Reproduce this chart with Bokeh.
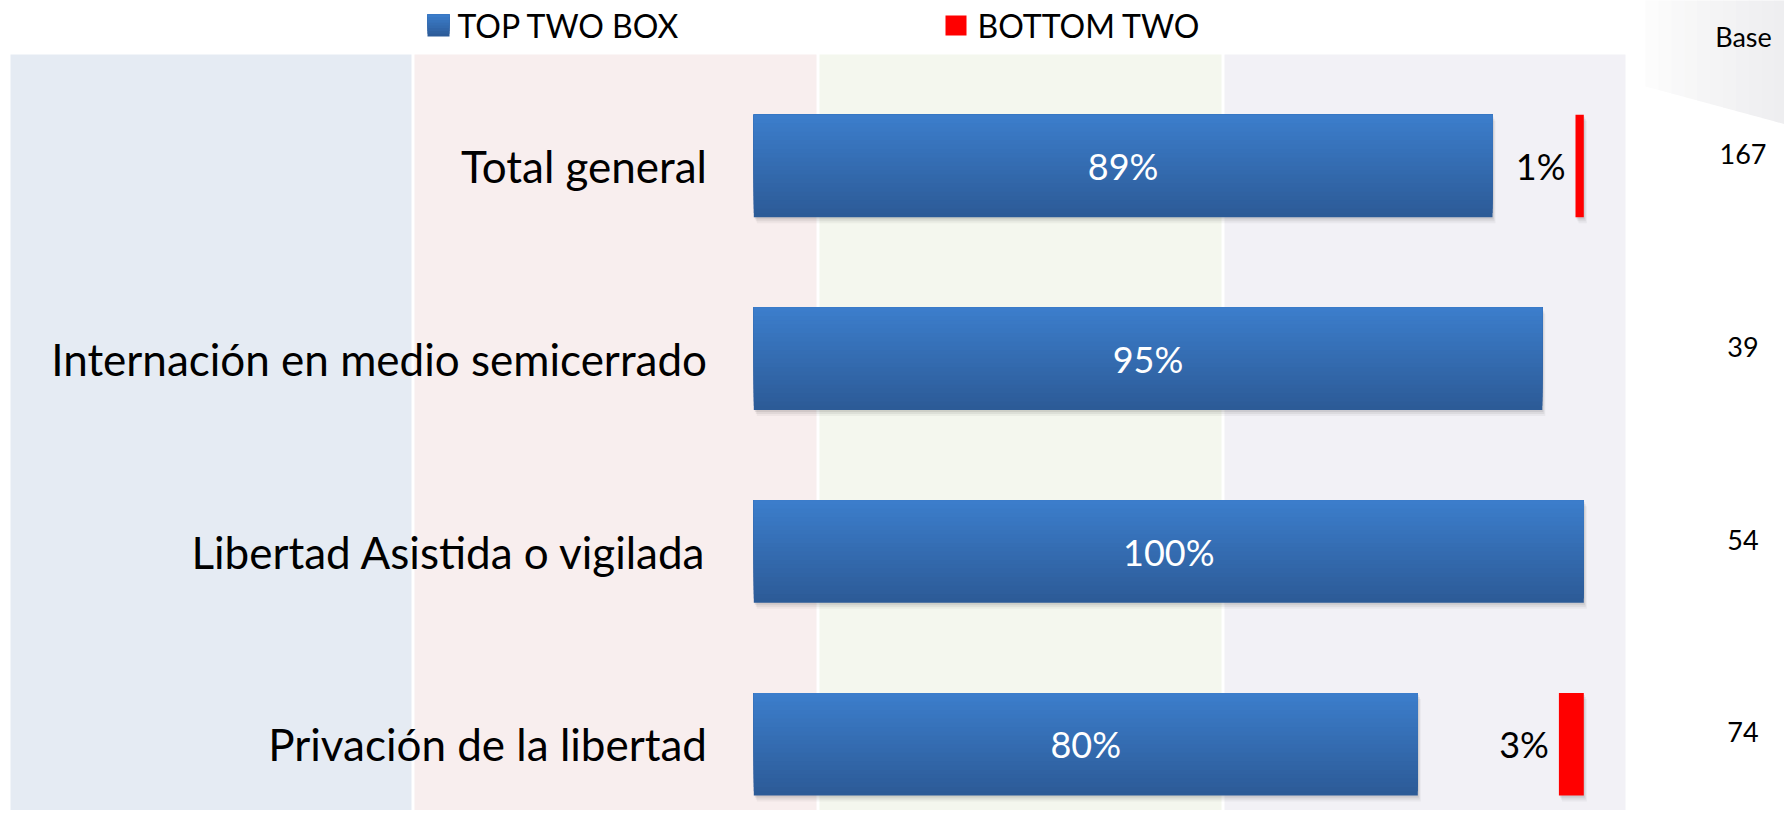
from bokeh.plotting import figure
from bokeh.models import ColumnDataSource, Range1d
from bokeh.embed import file_html
from bokeh.resources import INLINE
from bokeh.core.properties import value
from bokeh.transform import dodge

# ---------------- data ----------------
categories = ["Total general", "Internación en medio semicerrado",
              "Libertad Asistida o vigilada", "Privación de la libertad"]
top_two = [89, 95, 100, 80]
bottom_two = [1, 0, 0, 3]
bases = [167, 39, 54, 74]
series_names = ["TOP TWO BOX", "BOTTOM TWO"]
base_title = "Base"

# ---------------- layout helpers ----------------
W, H = 1784, 810
ORIGIN = 0               # page position of the figure's top-left corner
ZERO_PX = 753.3          # page x of 0 %
PX_PER_PCT = 8.3
ROW0_PX = 165.5          # page y of first category centre
PX_PER_ROW = 192.75


def X(px):
    return (px - ZERO_PX) / PX_PER_PCT


def Y(py):
    return (py - ROW0_PX) / PX_PER_ROW


def lerp_hex(c1, c2, t):
    a = [int(c1[i:i + 2], 16) for i in (1, 3, 5)]
    b = [int(c2[i:i + 2], 16) for i in (1, 3, 5)]
    return "#" + "".join(f"{round(a[j] + (b[j] - a[j]) * t):02x}" for j in range(3))


FONT = value("Lato")
BLUE_TOP, BLUE_BOT = "#3c7ecc", "#2c5a96"

p = figure(width=W, height=H, output_backend="svg", toolbar_location=None,
           x_range=Range1d(X(ORIGIN), X(ORIGIN + W)),
           y_range=Range1d(Y(ORIGIN + H), Y(ORIGIN)),
           x_axis_location=None, y_axis_location=None, min_border=0,
           outline_line_color=None, background_fill_color="white",
           border_fill_color="white")
p.grid.visible = False

# background bands
band_l = [10, 414, 819, 1224]
band_r = [411, 816, 1221, 1625]
band_c = ["#e5ebf3", "#f8eeee", "#f4f7ee", "#f2f1f6"]
p.quad(left=[X(v) for v in band_l], right=[X(v) for v in band_r],
       top=Y(54), bottom=Y(840), fill_color=band_c, line_color=None)

# top-right grey decoration (gradient wedge)
NS = 12
xs_d, ys_d, cs_d = [], [], []
x_a, x_b = 1645, 1800
for k in range(NS):
    xa = x_a + (x_b - x_a) * k / NS
    xb = x_a + (x_b - x_a) * (k + 1) / NS
    ba = 86 + (128 - 86) * (xa - x_a) / (x_b - x_a)
    bb = 86 + (128 - 86) * (xb - x_a) / (x_b - x_a)
    xs_d.append([X(xa), X(xb + 0.5), X(xb + 0.5), X(xa)])
    ys_d.append([Y(-5), Y(-5), Y(bb), Y(ba)])
    cs_d.append(lerp_hex("#fdfdfd", "#ececee", ((k + 0.5) / NS) ** 0.8))
p.patches(xs_d, ys_d, fill_color=cs_d, line_color=None)

n = len(categories)
ys = list(range(n))
bar_h = 102.7 / PX_PER_ROW

src = ColumnDataSource(dict(y=ys, top=top_two, bottom=bottom_two,
                            cat=categories, base=[str(b) for b in bases],
                            top_lbl=[f"{v}%" for v in top_two],
                            top_mid=[v / 2 for v in top_two]))

red_idx = [i for i in ys if bottom_two[i] > 0]
red_src = ColumnDataSource(dict(y=[ys[i] for i in red_idx],
                                left=[100 - bottom_two[i] for i in red_idx],
                                lbl=[f"{bottom_two[i]}%" for i in red_idx]))

# shadows
for dx, dy, a in [(1, 2, 0.10), (2, 4, 0.08), (3, 6, 0.05)]:
    p.hbar(y=dodge("y", dy / PX_PER_ROW), left=dx / PX_PER_PCT,
           right=dodge("top", dx / PX_PER_PCT), height=bar_h, source=src,
           fill_color="#404040", fill_alpha=a, line_color=None)
    p.hbar(y=dodge("y", dy / PX_PER_ROW), left=dodge("left", dx / PX_PER_PCT),
           right=100 + dx / PX_PER_PCT, height=bar_h, source=red_src,
           fill_color="#404040", fill_alpha=a, line_color=None)

# blue bars with vertical gradient: full bar in the darkest colour, then
# lighter layers anchored at the bar top with decreasing height
N = 24
for k in range(N):
    frac = 1 - k / N                       # covered fraction from the top
    t = (N - 1 - k + 0.5) / N
    t = 1 - (k + 0.5) / N if k else 1.0
    h = bar_h * frac
    p.hbar(y=dodge("y", -bar_h / 2 + h / 2), height=h,
           left=0, right="top", source=src,
           fill_color=lerp_hex(BLUE_TOP, BLUE_BOT, frac - 0.5 / N),
           line_color=None)

# red bars
p.hbar(y="y", left="left", right=100, height=bar_h, source=red_src,
       fill_color="#ff0000", line_color=None)

# labels
p.text(x="top_mid", y="y", text="top_lbl", source=src, text_color="white",
       text_font=FONT, text_font_size="36px", text_align="center",
       text_baseline="middle")
p.text(x="left", y="y", text="lbl", source=red_src, text_color="black",
       text_font=FONT, text_font_size="36px", text_align="right",
       text_baseline="middle", x_offset=-10)
p.text(x=X(706.5), y="y", text="cat", source=src, text_color="black",
       text_font=FONT, text_font_size="44px", text_align="right",
       text_baseline="middle")
p.text(x=X(1742.5), y=dodge("y", -12 / PX_PER_ROW), text="base", source=src,
       text_color="black", text_font=FONT, text_font_size="27px",
       text_align="center", text_baseline="middle")
p.text(x=[X(1743)], y=[Y(36)], text=[base_title], text_color="black",
       text_font=FONT, text_font_size="27px", text_align="center",
       text_baseline="middle")

# legend
NL = 8
for k in range(NL):
    frac = 1 - k / NL
    p.quad(left=X(427), right=X(449), top=Y(14), bottom=Y(14 + 22 * frac),
           fill_color=lerp_hex(BLUE_TOP, BLUE_BOT, frac - 0.5 / NL),
           line_color=None)
p.quad(left=X(945), right=X(966), top=Y(15), bottom=Y(35),
       fill_color="#ff0000", line_color=None)
p.text(x=[X(457), X(977)], y=[Y(25), Y(25)], text=series_names,
       text_color="black", text_font=FONT, text_font_size="32px",
       text_align="left", text_baseline="middle")

open("out.html", "w").write(file_html(p, INLINE))
